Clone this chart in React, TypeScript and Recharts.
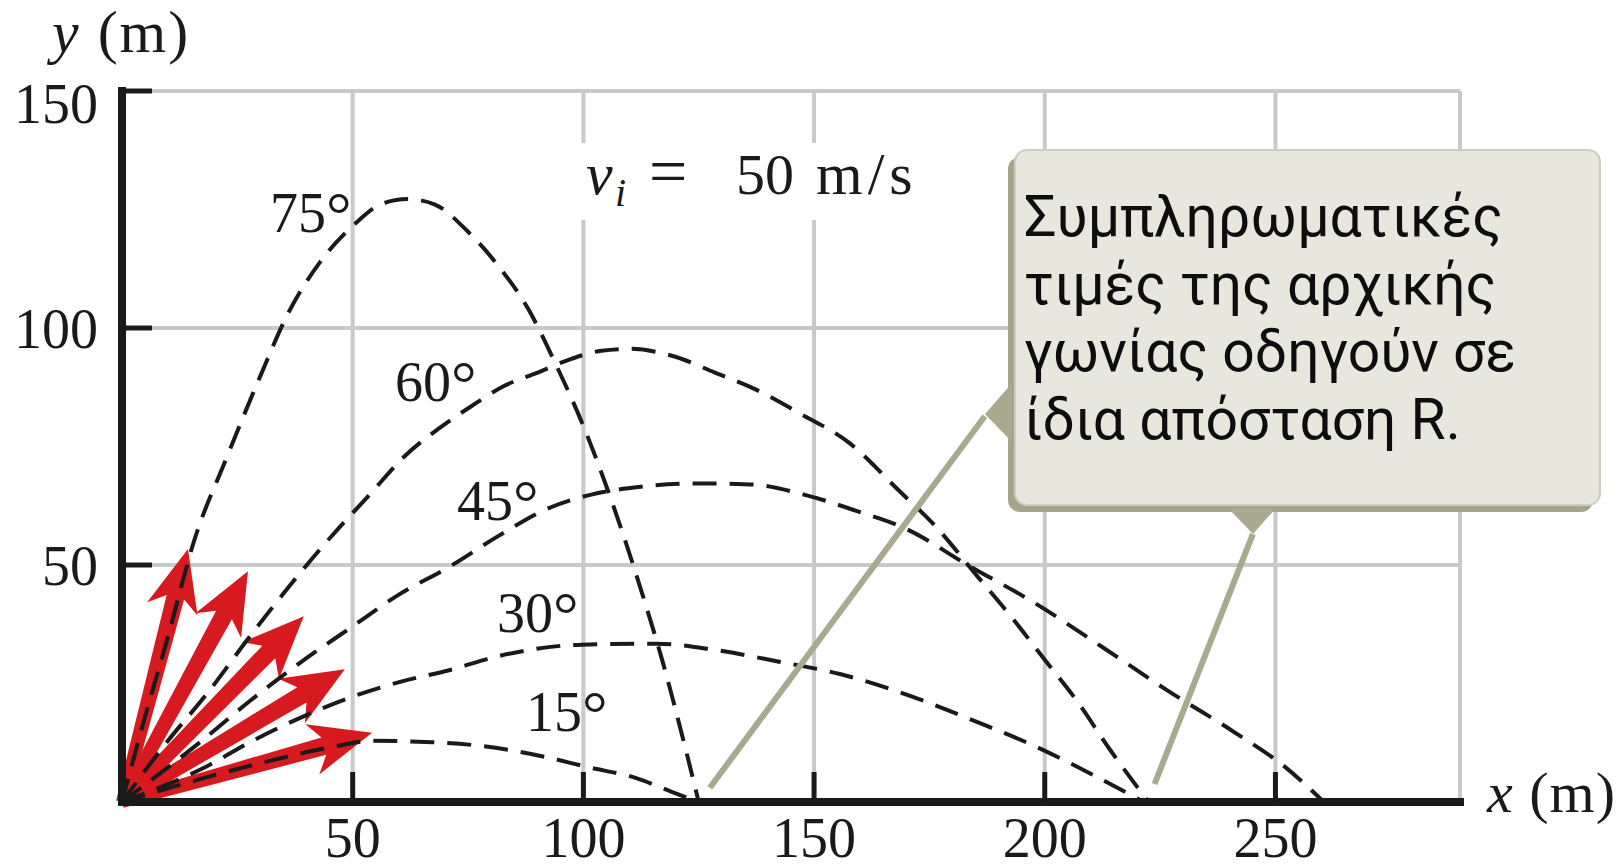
import React from "react";
import { CartesianGrid, Line, LineChart, ReferenceLine, XAxis, YAxis } from "recharts";

// axis ticks
const xTicks = [50, 100, 150, 200, 250];
const yTicks = [50, 100, 150];

// trajectories (x in m, y in m)
const x15 = [0, 15, 30, 45, 54.3, 67.3, 78.1, 91.8, 101.2, 111.3, 119, 125];
const y15 = [0, 4.3, 8.2, 11.5, 12.9, 12.6, 11.8, 9.5, 7.3, 5.1, 2.2, 0];

const x30 = [0, 18.3, 27.7, 38.5, 49.3, 60.1, 70.9, 81.7, 99.6, 115.9, 128.4, 142.4, 155.6, 171.1, 185, 197.8, 208.7, 221.5];
const y30 = [0, 7.5, 12.6, 17.7, 22, 25.3, 27.8, 30.8, 33.2, 33.4, 32.1, 29.6, 27, 22.3, 17, 11.8, 6.6, 0];

const x45 = [0, 16.9, 27.7, 38.5, 49.3, 60.1, 70.9, 81.7, 92, 101.5, 112.4, 124.1, 136.2, 148, 159.5, 170, 183.3, 197.8, 212.3, 226.8, 241.3, 252.2, 260.5];
const y45 = [0, 12.6, 21.3, 29.3, 36.6, 43.8, 49.6, 56.2, 61.8, 64.8, 66.5, 67.2, 67, 64.8, 61.3, 57.6, 50, 42, 32.8, 23.4, 14.6, 7.3, 0];

const x60 = [0, 9.7, 18.3, 28.4, 38.5, 45.9, 53.9, 61.2, 68.4, 75.7, 82.9, 90.1, 97.4, 103.9, 110.2, 119, 128.5, 137.2, 146.7, 157.7, 168.6, 176, 185.5, 192.8, 200, 207.2, 213.8, 222.5];
const y60 = [0, 12.6, 22.7, 35.8, 48.2, 56.6, 65.1, 72.9, 78.6, 83.5, 87.8, 90.6, 93.5, 95.2, 95.6, 94.2, 90.6, 87.1, 82.1, 75.7, 65.5, 58.5, 47.5, 39, 30, 21, 11.5, 0];

const x75 = [0, 5, 10, 15.5, 22.8, 30, 35.8, 43, 50.3, 56.1, 61.9, 67.7, 74.9, 81.4, 88, 93.8, 100.3, 106.2, 112.8, 117.5, 122.2, 125];
const y75 = [0, 18, 35, 54.7, 72.9, 89.9, 102.7, 114, 121.8, 126.1, 127.2, 126.1, 120.4, 113.3, 104.1, 92.8, 78.6, 63.3, 43.8, 28.5, 11, 0];

// launch velocity arrows (tip positions, m)
const arrowTipX = [54.2, 48.3, 39.4, 27.3, 14.3];
const arrowTipY = [14.6, 28.0, 39.2, 48.7, 53.4];

// callout pointer lines: from landing spots to the box
const pointerFromX = [127.4, 223.8];
const pointerFromY = [3.0, 3.8];
const pointerToX = [187, 245.1];
const pointerToY = [81.4, 56.5];

const angleLabels = ["75", "60", "45", "30", "15"];
const calloutLines = [
  "Συμπληρωματικές",
  "τιμές της αρχικής",
  "γωνίας οδηγούν σε",
  "ίδια απόσταση R.",
];

const toPoints = (xs: number[], ys: number[]) => xs.map((x, i) => ({ x, y: ys[i] }));
const series = [
  { key: "15", data: toPoints(x15, y15) },
  { key: "30", data: toPoints(x30, y30) },
  { key: "45", data: toPoints(x45, y45) },
  { key: "60", data: toPoints(x60, y60) },
  { key: "75", data: toPoints(x75, y75) },
];

const ink = "#1a1a1a";
const grid = "#c9c9c9";
const olive = "#a9a98f";
const serif = "'Liberation Serif', 'Times New Roman', serif";

function XTick({ x, y, payload }: any) {
  return (
    <text x={x} y={y} textAnchor="middle" fontFamily={serif} fontSize={56} fill={ink}>
      {payload.value}
    </text>
  );
}

function YTick({ x, y, payload }: any) {
  const dy = payload.value === 150 ? 32 : 20;
  return (
    <text x={x} y={y + dy} textAnchor="end" fontFamily={serif} fontSize={56} fill={ink}>
      {payload.value}
    </text>
  );
}

function RedArrow({ x1, y1, x2, y2 }: any) {
  const dx = x2 - x1;
  const dy = y2 - y1;
  const len = Math.hypot(dx, dy);
  const ux = dx / len;
  const uy = dy / len;
  const nx = -uy;
  const ny = ux;
  const headLen = 62;
  const headHalf = 26;
  const bx = x2 - ux * headLen;
  const by = y2 - uy * headLen;
  const jx = bx + ux * 12;
  const jy = by + uy * 12;
  const pts = [
    [x1 + nx * 6, y1 + ny * 6],
    [jx + nx * 9, jy + ny * 9],
    [bx + nx * headHalf, by + ny * headHalf],
    [x2, y2],
    [bx - nx * headHalf, by - ny * headHalf],
    [jx - nx * 9, jy - ny * 9],
    [x1 - nx * 6, y1 - ny * 6],
  ];
  return <polygon points={pts.map((p) => p.join(",")).join(" ")} fill="#d71a20" />;
}

const labelPos = [
  [270, 232],
  [395, 401],
  [457, 520],
  [497, 632],
  [526, 731],
];

export default function App() {
  return (
    <div style={{ position: "absolute", left: 0, top: 0, width: 1620, height: 868, background: "#fff" }}>
      <LineChart width={1620} height={868} margin={{ top: 91, right: 160, bottom: 26, left: 62 }}>
        <CartesianGrid stroke={grid} strokeWidth={4} />
        <XAxis
          type="number"
          dataKey="x"
          domain={[0, 290]}
          ticks={xTicks}
          interval={0}
          allowDataOverflow
          height={40}
          axisLine={{ stroke: ink, strokeWidth: 8, strokeLinecap: "square" }}
          tickLine={{ stroke: ink, strokeWidth: 5 }}
          tickSize={-30}
          tickMargin={85}
          tick={XTick}
        />
        <YAxis
          type="number"
          dataKey="y"
          domain={[0, 150]}
          ticks={yTicks}
          interval={0}
          allowDataOverflow
          width={60}
          axisLine={{ stroke: ink, strokeWidth: 8, strokeLinecap: "square" }}
          tickLine={{ stroke: ink, strokeWidth: 5 }}
          tickSize={-30}
          tickMargin={54}
          tick={YTick}
        />
        <ReferenceLine x={290} stroke={grid} strokeWidth={4} />
        {arrowTipX.map((tx, i) => (
          <ReferenceLine
            key={`arrow-${i}`}
            segment={[{ x: 0, y: 0 }, { x: tx, y: arrowTipY[i] }]}
            ifOverflow="visible"
            shape={RedArrow}
          />
        ))}
        {series.map((s) => (
          <Line
            key={s.key}
            data={s.data}
            dataKey="y"
            type="monotone"
            stroke={ink}
            strokeWidth={4}
            strokeDasharray="24 13"
            dot={false}
            activeDot={false}
            isAnimationActive={false}
          />
        ))}
        {pointerFromX.map((fx, i) => (
          <ReferenceLine
            key={`ptr-${i}`}
            segment={[{ x: fx, y: pointerFromY[i] }, { x: pointerToX[i], y: pointerToY[i] }]}
            ifOverflow="visible"
            stroke={olive}
            strokeWidth={6}
          />
        ))}
      </LineChart>

      <svg width={1620} height={868} style={{ position: "absolute", left: 0, top: 0, pointerEvents: "none" }}>
        <text x={52} y={52} fontFamily={serif} fontSize={60} fill={ink} letterSpacing={2}>
          <tspan fontStyle="italic">y</tspan> (m)
        </text>
        <text x={1487} y={812} fontFamily={serif} fontSize={58} fill={ink} letterSpacing={1}>
          <tspan fontStyle="italic">x</tspan> (m)
        </text>

        {angleLabels.map((t, i) => (
          <text key={t} x={labelPos[i][0]} y={labelPos[i][1]} fontFamily={serif} fontSize={56} fill={ink}>
            {t}
            <tspan fontSize={64} dy={4}>°</tspan>
          </text>
        ))}

        <rect x={580} y={143} width={345} height={77} fill="#fff" />
        <text y={194} fontFamily={serif} fontSize={60} fill={ink}>
          <tspan x={586} fontStyle="italic">v</tspan>
          <tspan x={615} dy={12} fontStyle="italic" fontSize={40}>i</tspan>
          <tspan x={649} dy={-12} fontSize={68}>=</tspan>
          <tspan x={736} fontSize={58}>50</tspan>
          <tspan x={816} letterSpacing={5}>m/s</tspan>
        </text>

        <rect x={1008} y={157} width={585} height={355} rx={12} fill="#a4a488" />
        <polygon points="985,414 1012,383 1012,442" fill={olive} />
        <polygon points="1253,534 1228,508 1276,508" fill={olive} />
        <rect x={1015} y={150} width={585} height={355} rx={12} fill="#e7e7dd" stroke="#cdcdbf" strokeWidth={2} />
        <text y={236} fontFamily="Roboto, 'Liberation Sans', sans-serif" fontSize={57} fill="#0d0d0d">
          {calloutLines.map((t, i) => (
            <tspan key={t} x={1024} dy={i === 0 ? 0 : 67.7}>
              {t}
            </tspan>
          ))}
        </text>
      </svg>
    </div>
  );
}
